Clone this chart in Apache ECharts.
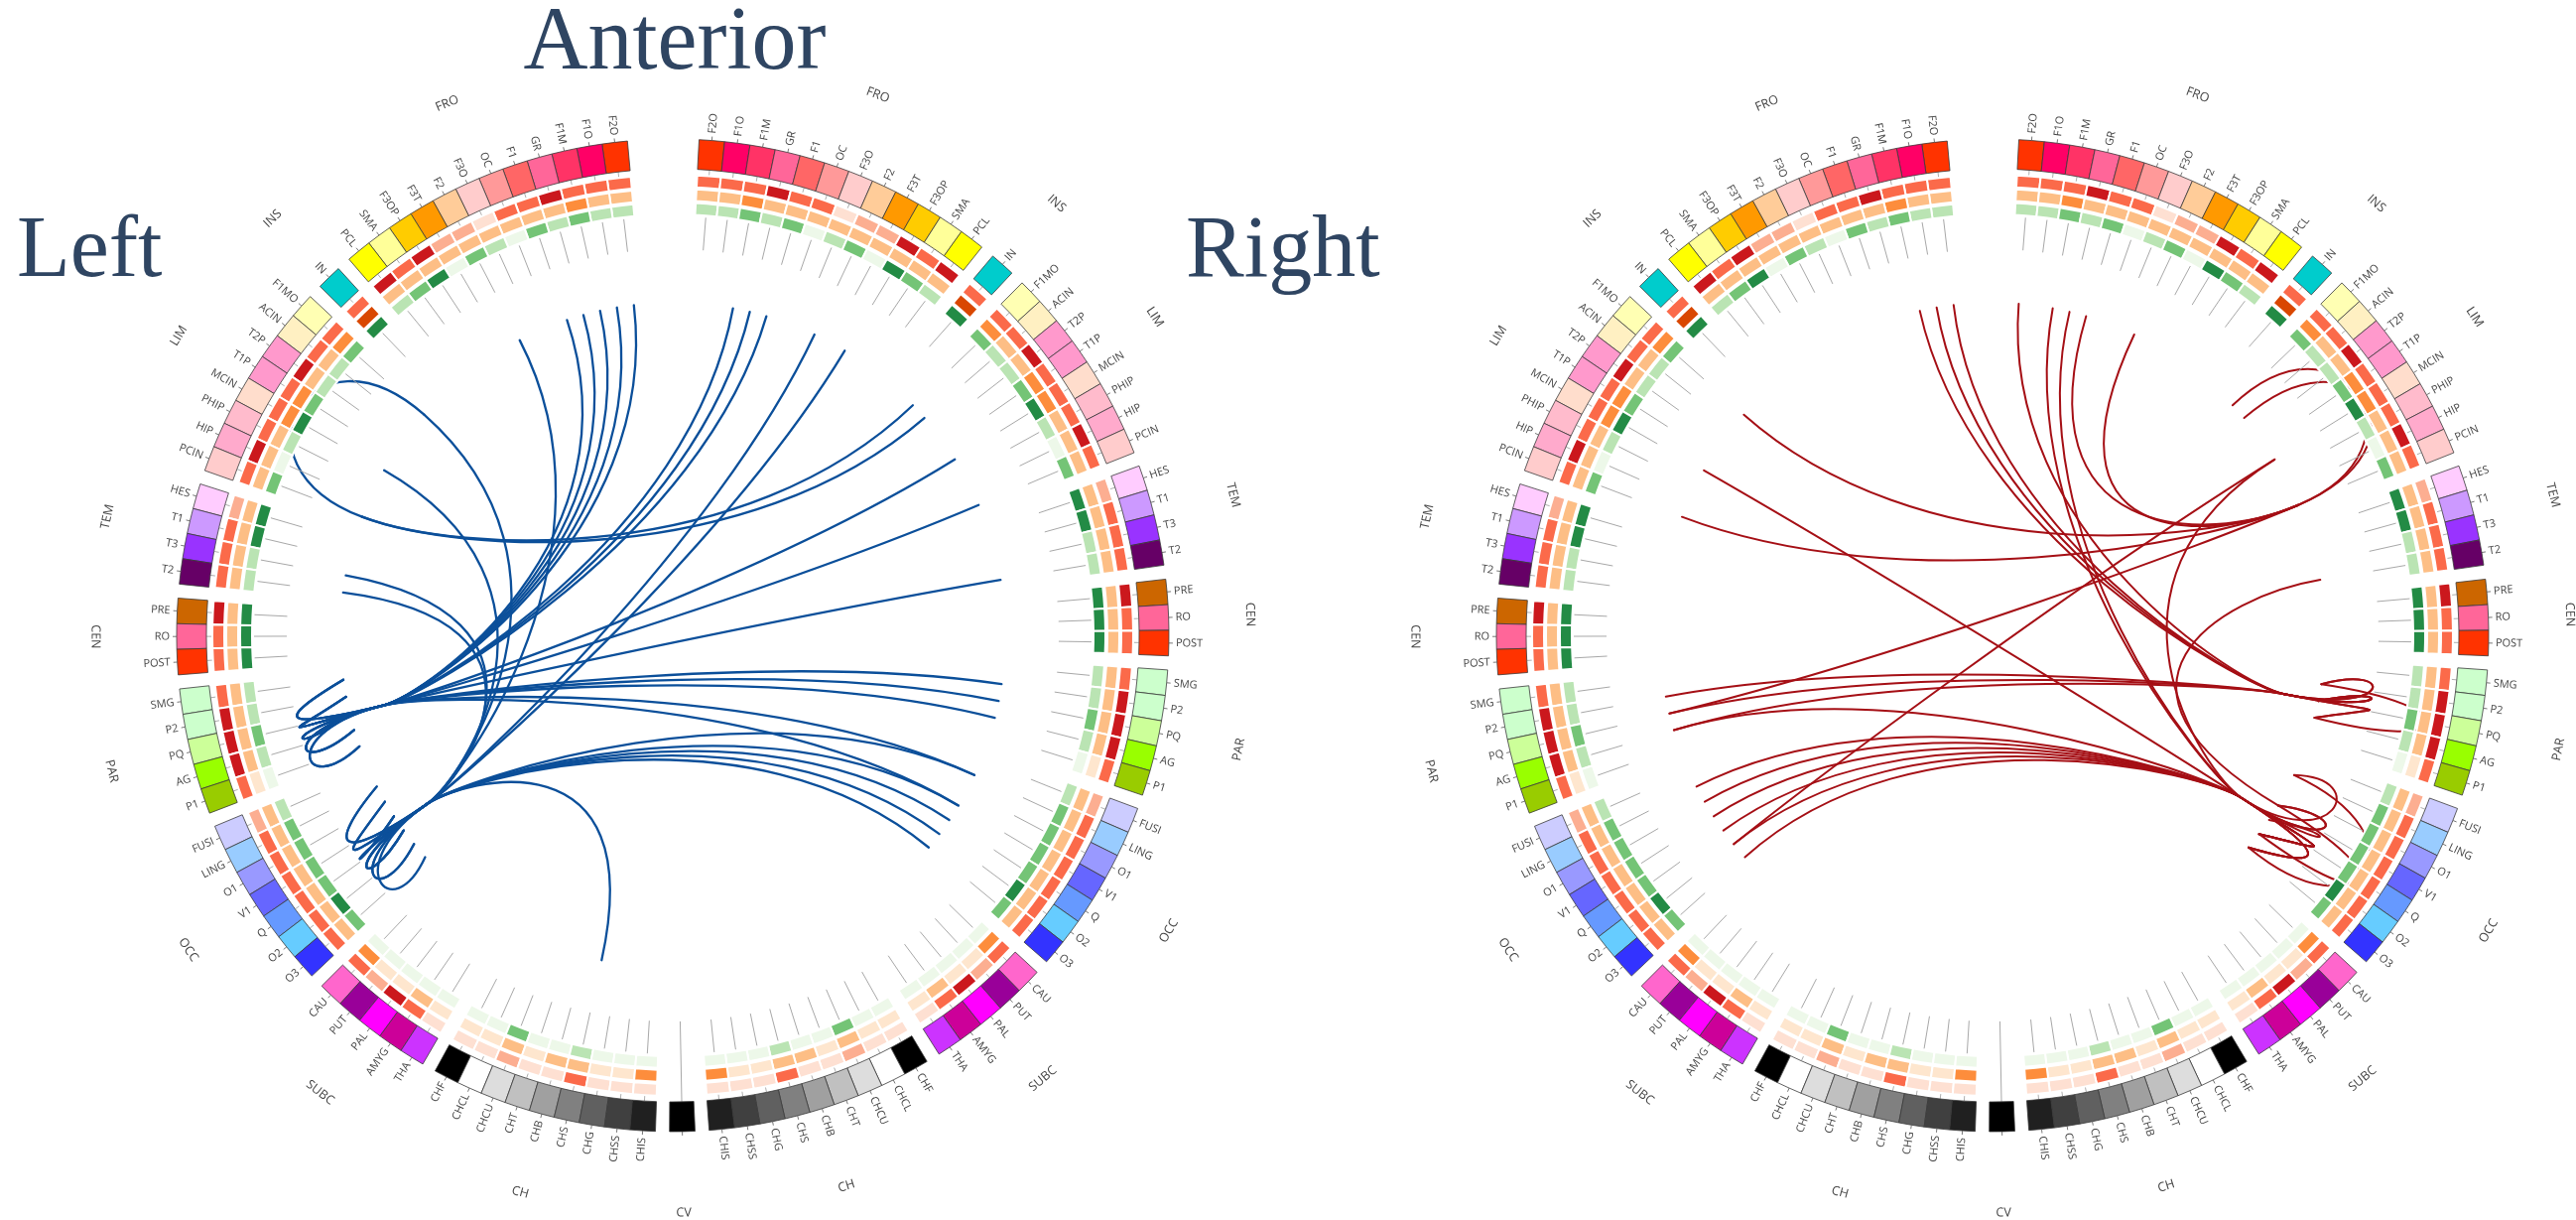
<!DOCTYPE html>
<html>
<head>
<meta charset="utf-8">
<script src="https://cdn.jsdelivr.net/npm/echarts@6/dist/echarts.min.js"></script>
<style>
  html, body { margin: 0; padding: 0; background: #ffffff; }
  #chart { width: 2596px; height: 1229px; }
</style>
</head>
<body>
<div id="chart"></div>
<script>
// Brain regions of one hemisphere, from the anterior midline round to the posterior midline
const groupNames = ['FRO', 'INS', 'LIM', 'TEM', 'CEN', 'PAR', 'OCC', 'SUBC', 'CH'];
const groupSizes = [12, 1, 8, 4, 3, 5, 7, 5, 9];
const regionNames = [
  'F2O', 'F1O', 'F1M', 'GR', 'F1', 'OC', 'F3O', 'F2', 'F3T', 'F3OP', 'SMA', 'PCL',
  'IN',
  'F1MO', 'ACIN', 'T2P', 'T1P', 'MCIN', 'PHIP', 'HIP', 'PCIN',
  'HES', 'T1', 'T3', 'T2',
  'PRE', 'RO', 'POST',
  'SMG', 'P2', 'PQ', 'AG', 'P1',
  'FUSI', 'LING', 'O1', 'V1', 'Q', 'O2', 'O3',
  'CAU', 'PUT', 'PAL', 'AMYG', 'THA',
  'CHF', 'CHCL', 'CHCU', 'CHT', 'CHB', 'CHS', 'CHG', 'CHSS', 'CHIS'
];
const midlineName = 'CV';

// Three annotation tracks per region, as levels 0..3
const redLevel = [
  2, 2, 2, 3, 2, 2, 0, 1, 1, 3, 2, 3,
  2,
  2, 2, 3, 2, 2, 2, 3, 2,
  1, 2, 2, 2,
  3, 2, 2,
  2, 3, 3, 3, 2,
  1, 2, 2, 2, 2, 2, 2,
  2, 1, 3, 2, 0,
  0, 0, 1, 0, 0, 2, 0, 0, 0
];
const orangeLevel = [
  1, 1, 2, 1, 1, 1, 1, 1, 1, 1, 1, 1,
  3,
  2, 1, 1, 2, 2, 1, 1, 1,
  1, 1, 1, 1,
  1, 1, 1,
  1, 1, 1, 1, 0,
  1, 1, 1, 1, 1, 1, 1,
  2, 0, 0, 1, 0,
  0, 0, 1, 0, 1, 1, 0, 0, 2
];
const greenLevel = [
  1, 1, 2, 1, 2, 0, 1, 2, 0, 3, 2, 1,
  3,
  2, 1, 1, 2, 3, 1, 0, 2,
  3, 3, 1, 1,
  3, 3, 3,
  1, 1, 2, 1, 0,
  1, 2, 2, 2, 2, 3, 2,
  0, 0, 0, 0, 0,
  0, 0, 2, 0, 0, 1, 0, 0, 0
];

// Connections (L: left hemisphere, R: right hemisphere); the second node is the hub end
const leftPanelLinks = [
  ['L:F2O', 'L:SMG'], ['L:F1O', 'L:P2'], ['L:F1M', 'L:PQ'], ['L:GR', 'L:AG'], ['L:F1', 'L:P1'],
  ['L:F2', 'L:LING'],
  ['R:F1M', 'L:SMG'], ['R:GR', 'L:P2'], ['R:F1', 'L:PQ'], ['R:F2', 'L:V1'], ['R:F3OP', 'L:Q'],
  ['R:F1MO', 'L:PCIN'], ['R:ACIN', 'L:PCIN'], ['R:MCIN', 'L:AG'], ['R:PCIN', 'L:P2'], ['R:T2', 'L:SMG'],
  ['R:P2', 'L:P2'], ['R:PQ', 'L:PQ'], ['R:AG', 'L:AG'],
  ['R:LING', 'L:PQ'], ['R:V1', 'L:P1'],
  ['R:LING', 'L:LING'], ['R:V1', 'L:V1'], ['R:Q', 'L:Q'], ['R:O2', 'L:O2'], ['R:O3', 'L:O3'],
  ['L:F1MO', 'L:PCIN'], ['L:F1MO', 'L:O1'], ['L:MCIN', 'L:O2'], ['L:T3', 'L:Q'], ['L:T2', 'L:V1'],
  ['L:CHS', 'L:O1']
];
const rightPanelLinks = [
  ['L:F2O', 'R:P2'], ['L:F1O', 'R:PQ'], ['L:F1M', 'R:AG'],
  ['R:F2O', 'R:PQ'], ['R:F1M', 'R:O2'], ['R:GR', 'R:O3'], ['R:F1', 'R:PCIN'], ['R:F2', 'R:PCIN'],
  ['L:F1MO', 'R:PCIN'], ['L:PCIN', 'R:PCIN'], ['L:MCIN', 'R:O3'], ['L:PQ', 'R:PCIN'],
  ['L:P2', 'R:P2'], ['L:PQ', 'R:PQ'], ['L:AG', 'R:AG'], ['L:AG', 'R:O2'],
  ['L:LING', 'R:LING'], ['L:O1', 'R:V1'], ['L:V1', 'R:V1'], ['L:Q', 'R:Q'], ['L:O2', 'R:O2'], ['L:O3', 'R:O3'],
  ['R:MCIN', 'L:O2'],
  ['R:F1MO', 'R:PCIN'], ['R:ACIN', 'R:PCIN'], ['R:MCIN', 'R:O2'], ['R:V1', 'R:T2'],
  ['R:P2', 'R:AG'], ['R:LING', 'R:O3'], ['R:V1', 'R:O2']
];

// Region fill colours
const regionColors = [
  '#FF3300', '#FF0066', '#FF3366', '#FF6699', '#FF6666', '#FF9999', '#FFCCCC', '#FFCC99', '#FF9900', '#FFCC00', '#FFFF99', '#FFFF00',
  '#00CCCC',
  '#FFFFB3', '#FFF0C2', '#FF99CC', '#FF99CC', '#FFDDCC', '#FFBBCC', '#FFAACC', '#FFCCCC',
  '#FFCCFF', '#CC99FF', '#9933FF', '#660066',
  '#CC6600', '#FF6699', '#FF3300',
  '#CCFFCC', '#CCFFCC', '#CCFF99', '#99FF00', '#99CC00',
  '#CCCCFF', '#99CCFF', '#9999FF', '#6666FF', '#6699FF', '#66CCFF', '#3333FF',
  '#FF66CC', '#990099', '#FF00FF', '#CC0099', '#CC33FF',
  '#000000', '#FFFFFF', '#DDDDDD', '#C0C0C0', '#A0A0A0', '#808080', '#606060', '#404040', '#202020'
];
const midlineColor = '#000000';
const redScale = ['#FEE0D2', '#FCAE91', '#FB6A4A', '#CB181D'];
const orangeScale = ['#FEE6CE', '#FDBE85', '#FD8D3C', '#D94701'];
const greenScale = ['#EDF8E9', '#BAE4B3', '#74C476', '#238B45'];

// ---- angular layout (in slot units along the angle axis, clockwise from the top) ----
const TOP_GAP = 2.8;
const GROUP_GAP = 0.55;
const uRight = [];
const groupOfRegion = [];
let cursor = (1 + TOP_GAP) / 2;
groupSizes.forEach(function (n, g) {
  if (g > 0) cursor += GROUP_GAP;
  for (let j = 0; j < n; j++) { uRight.push(cursor); groupOfRegion.push(g); cursor += 1; }
});
const uMid = cursor + GROUP_GAP;
const TOTAL = 2 * uMid;

const nodes = [];
const nodeIndex = {};
['R', 'L'].forEach(function (side) {
  regionNames.forEach(function (name, i) {
    const u = side === 'R' ? uRight[i] : TOTAL - uRight[i];
    nodeIndex[side + ':' + name] = nodes.length;
    nodes.push({ id: side + ':' + name, side: side, name: name, region: i, u: u });
  });
});
nodeIndex[midlineName] = nodes.length;
nodes.push({ id: midlineName, side: 'M', name: midlineName, region: -1, u: uMid });

const groupLabels = [];
['R', 'L'].forEach(function (side) {
  groupNames.forEach(function (g, gi) {
    const us = uRight.filter(function (_, i) { return groupOfRegion[i] === gi; });
    const mean = us.reduce(function (a, b) { return a + b; }, 0) / us.length;
    groupLabels.push({ text: g, u: side === 'R' ? mean : TOTAL - mean });
  });
});
groupLabels.push({ text: midlineName, u: uMid });

// radii of the tracks (radius-axis units)
const R_BOX = [470, 500];
const R_RED = [452, 464];
const R_ORANGE = [438, 450];
const R_GREEN = [424, 436];
const R_STEM = [389, 422];
const R_LABEL = 507;
const R_GROUP = 582;
const R_LINK = 335;
const R_HUB = 300;
const R_HOOK = 410;

const LABEL_COLOR = '#444444';
const NODE_FONT = '11px "Open Sans"';
const GROUP_FONT = '12.5px "Open Sans"';

function ringRender(params, api) {
  const cs = params.coordSys;
  const u = api.value(1);
  const node = nodes[api.value(2)];
  const pt = function (r, uu) { return api.coord([r, uu]); };
  const angOf = function (uu) { const p = pt(300, uu); return Math.atan2(p[1] - cs.cy, p[0] - cs.cx); };
  const radOf = function (r) { const p = pt(r, u); return Math.hypot(p[0] - cs.cx, p[1] - cs.cy); };
  let a0 = angOf(u - 0.5);
  let a1 = angOf(u + 0.5);
  if (a1 < a0) a1 += 2 * Math.PI;
  const am = angOf(u);
  const sector = function (rr, fill, stroke, lw) {
    return {
      type: 'sector',
      shape: { cx: cs.cx, cy: cs.cy, r0: radOf(rr[0]), r: radOf(rr[1]), startAngle: a0, endAngle: a1, clockwise: true },
      style: { fill: fill, stroke: stroke, lineWidth: lw }
    };
  };
  const seg = function (r0, r1, color, lw) {
    const p = pt(r0, u), q = pt(r1, u);
    return { type: 'line', shape: { x1: p[0], y1: p[1], x2: q[0], y2: q[1] }, style: { stroke: color, lineWidth: lw } };
  };
  const children = [];
  const isMid = node.region < 0;
  children.push(seg(R_STEM[0], isMid ? R_BOX[0] : R_STEM[1], '#A8A8A8', 1));
  if (!isMid) {
    const i = node.region;
    children.push(sector(R_GREEN, greenScale[greenLevel[i]], '#FFFFFF', 2));
    children.push(sector(R_ORANGE, orangeScale[orangeLevel[i]], '#FFFFFF', 2));
    children.push(sector(R_RED, redScale[redLevel[i]], '#FFFFFF', 2));
    children.push(seg(465, R_BOX[0], '#999999', 0.8));
  }
  children.push(sector(R_BOX, isMid ? midlineColor : regionColors[node.region], '#3A3A3A', 0.8));
  children.push(seg(R_BOX[1], R_BOX[1] + 4, '#555555', 0.8));
  if (!isMid) {
    const lp = pt(R_LABEL, u);
    const c = Math.cos(am);
    children.push({
      type: 'text',
      x: lp[0], y: lp[1],
      rotation: c >= 0 ? -am : -(am + Math.PI),
      style: { text: node.name, fill: LABEL_COLOR, font: NODE_FONT, align: c >= 0 ? 'left' : 'right', verticalAlign: 'middle' }
    });
  }
  return { type: 'group', children: children };
}

function groupRender(params, api) {
  const cs = params.coordSys;
  const u = api.value(1);
  const lab = groupLabels[api.value(2)];
  const p = api.coord([R_GROUP, u]);
  const a = Math.atan2(p[1] - cs.cy, p[0] - cs.cx);
  const rot = Math.sin(a) < 0 ? -(a + Math.PI / 2) : -(a - Math.PI / 2);
  return {
    type: 'text', x: p[0], y: p[1], rotation: rot,
    style: { text: lab.text, fill: LABEL_COLOR, font: GROUP_FONT, align: 'center', verticalAlign: 'middle' }
  };
}

const LOOP_SPAN = 10;   // slot distance below which a link bulges outward
const HOOK_SHIFT = 1.5; // slot offset of the returning control point of a hub hook

function cubic(p0, c1, c2, p3, color, width) {
  return {
    type: 'bezierCurve',
    shape: { x1: p0[0], y1: p0[1], x2: p3[0], y2: p3[1], cpx1: c1[0], cpy1: c1[1], cpx2: c2[0], cpy2: c2[1] },
    style: { stroke: color, lineWidth: width, fill: null, lineCap: 'round' }
  };
}

function makeLinkRender(color, width) {
  return function (params, api) {
    const ua = api.value(1), ub = api.value(2), ug = api.value(3), hook = api.value(4);
    let d = Math.abs(ua - ub);
    d = Math.min(d, TOTAL - d);
    const P = function (r, uu) { return api.coord([r, uu]); };
    const p0 = P(R_LINK, ua), T = P(R_LINK, ub);
    if (d < LOOP_SPAN) {
      return cubic(p0, P(R_LINK * 1.45, ua), P(R_LINK * 1.45, ub), T, color, width);
    }
    const c1 = P(100, ua);
    if (!hook) {
      return cubic(p0, c1, P(230, ub), T, color, width);
    }
    const H = P(R_HUB, ug);
    return {
      type: 'group',
      children: [
        cubic(p0, c1, P(255, ug), H, color, width),
        cubic(H, P(R_HOOK, ug), P(R_HOOK, ub - HOOK_SHIFT), T, color, width)
      ]
    };
  };
}

// Each link is drawn through the mean position of the hub nodes of its group
function linkData(links) {
  const hubSets = {};
  const keyOf = function (id) { const n = nodes[nodeIndex[id]]; return n.side + groupOfRegion[n.region]; };
  links.forEach(function (l) {
    const k = keyOf(l[1]);
    if (!hubSets[k]) hubSets[k] = {};
    hubSets[k][l[1]] = true;
  });
  return links.map(function (l) {
    const ids = Object.keys(hubSets[keyOf(l[1])]);
    const ug = ids.reduce(function (s, id) { return s + nodes[nodeIndex[id]].u; }, 0) / ids.length;
    return [R_LINK, nodes[nodeIndex[l[0]]].u, nodes[nodeIndex[l[1]]].u, ug, ids.length > 1 ? 1 : 0];
  });
}

const ringData = nodes.map(function (n, k) { return [0, n.u, k]; });
const groupData = groupLabels.map(function (g, k) { return [0, g.u, k]; });

const panels = [
  { center: [678, 640], links: leftPanelLinks, color: '#0B4F9A', width: 2.3 },
  { center: [2008, 640], links: rightPanelLinks, color: '#A50F15', width: 2.0 }
];

const option = {
  animation: false,
  backgroundColor: '#ffffff',
  polar: panels.map(function (p) { return { center: p.center, radius: [0, 500] }; }),
  angleAxis: panels.map(function (p, i) {
    return { polarIndex: i, type: 'value', min: 0, max: TOTAL, startAngle: 91.1, clockwise: true,
      axisLine: { show: false }, axisTick: { show: false }, axisLabel: { show: false }, splitLine: { show: false } };
  }),
  radiusAxis: panels.map(function (p, i) {
    return { polarIndex: i, type: 'value', min: 0, max: 500,
      axisLine: { show: false }, axisTick: { show: false }, axisLabel: { show: false }, splitLine: { show: false } };
  }),
  graphic: [
    { type: 'text', x: 680, y: 45, style: { text: 'Anterior', font: '90px "Liberation Serif"', fill: '#2F4562', align: 'center', verticalAlign: 'middle' } },
    { type: 'text', x: 17, y: 255, style: { text: 'Left', font: '88px "Liberation Serif"', fill: '#2F4562', align: 'left', verticalAlign: 'middle' } },
    { type: 'text', x: 1195, y: 255, style: { text: 'Right', font: '88px "Liberation Serif"', fill: '#2F4562', align: 'left', verticalAlign: 'middle' } }
  ],
  series: []
};

panels.forEach(function (p, i) {
  option.series.push({ type: 'custom', coordinateSystem: 'polar', polarIndex: i, clip: false, silent: true,
    renderItem: makeLinkRender(p.color, p.width), data: linkData(p.links) });
  option.series.push({ type: 'custom', coordinateSystem: 'polar', polarIndex: i, clip: false, silent: true,
    renderItem: ringRender, data: ringData });
  option.series.push({ type: 'custom', coordinateSystem: 'polar', polarIndex: i, clip: false, silent: true,
    renderItem: groupRender, data: groupData });
});

const chart = echarts.init(document.getElementById('chart'));
chart.setOption(option);
</script>
</body>
</html>
